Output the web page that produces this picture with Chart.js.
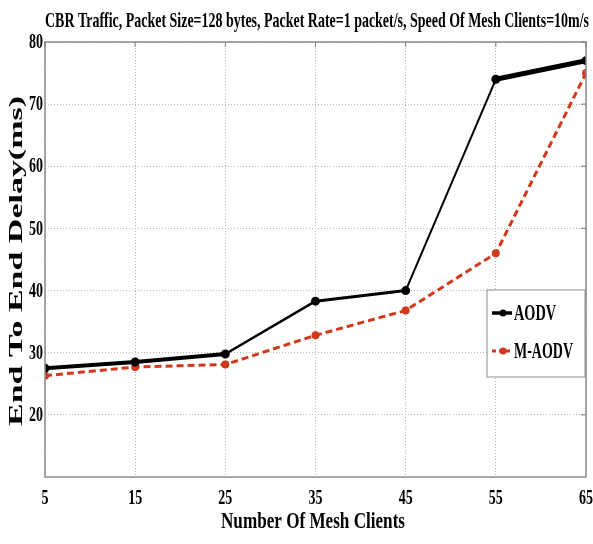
<!DOCTYPE html>
<html><head><meta charset="utf-8">
<script src="https://cdn.jsdelivr.net/npm/chart.js@4.4.0/dist/chart.umd.min.js"></script>
<style>html,body{margin:0;padding:0;background:#fff}#wrap{width:593px;height:544px;position:relative}canvas{display:block}</style>
</head><body><div id="wrap"><canvas id="c" width="593" height="544"></canvas></div>
<script>
// Delay measurements per number of mesh clients
const clients = [5, 15, 25, 35, 45, 55, 65];
const aodvDelay = [27.5, 28.5, 29.8, 38.3, 40.0, 74.0, 77.0];
const maodvDelay = [26.3, 27.7, 28.1, 32.8, 36.8, 46.0, 75.0];
const xTicks = [5, 15, 25, 35, 45, 55, 65];
const yTicks = [20, 30, 40, 50, 60, 70, 80];
const seriesNames = ['AODV', 'M-AODV'];
const chartTitle = 'CBR Traffic, Packet Size=128 bytes, Packet Rate=1 packet/s, Speed Of Mesh Clients=10m/s';
const xTitle = 'Number Of Mesh Clients';
const yTitle = 'End To End Delay(ms)';

const SERIF = "'Liberation Serif', 'DejaVu Serif', serif";
const TICK_FONT = 'bold 20px ' + SERIF;
const TICK_SQUEEZE = 0.7;

// Draws text squeezed or stretched along its baseline to a given length
function drawFitted(ctx, text, cx, cy, length, font, angle) {
  ctx.save();
  ctx.font = font;
  ctx.fillStyle = '#000';
  ctx.textAlign = 'center';
  ctx.textBaseline = 'middle';
  const w = ctx.measureText(text).width;
  ctx.translate(cx, cy);
  ctx.rotate(angle || 0);
  ctx.scale(length / w, 1);
  ctx.fillText(text, 0, 0);
  ctx.restore();
}

// Narrow tick label at an anchor point
function drawTickText(ctx, text, x, y, align) {
  ctx.save();
  ctx.font = TICK_FONT;
  ctx.fillStyle = '#000';
  ctx.textAlign = align;
  ctx.textBaseline = 'middle';
  ctx.translate(x, y);
  ctx.scale(TICK_SQUEEZE, 1);
  ctx.fillText(text, 0, 0);
  ctx.restore();
}

const decorations = {
  id: 'decorations',
  afterDatasetsDraw(chart) {
    const ctx = chart.ctx;
    const a = chart.chartArea;
    const xs = chart.scales.x, ys = chart.scales.y;
    ctx.save();
    // plot frame
    ctx.strokeStyle = '#8c8c8c';
    ctx.lineWidth = 1.5;
    ctx.strokeRect(a.left, a.top, a.right - a.left, a.bottom - a.top);
    // inward ticks on the top and right edges
    ctx.lineWidth = 1;
    ctx.strokeStyle = '#777';
    xs.ticks.forEach(t => {
      const px = xs.getPixelForValue(t.value);
      ctx.beginPath(); ctx.moveTo(px, a.top); ctx.lineTo(px, a.top + 5); ctx.stroke();
    });
    ys.ticks.forEach(t => {
      const py = ys.getPixelForValue(t.value);
      ctx.beginPath(); ctx.moveTo(a.right, py); ctx.lineTo(a.right - 5, py); ctx.stroke();
    });
    ctx.restore();

    // tick labels, placed by the axes
    xs.ticks.forEach(t => {
      drawTickText(ctx, String(t.label ?? t.value), xs.getPixelForValue(t.value), a.bottom + 22, 'center');
    });
    ys.ticks.forEach(t => {
      drawTickText(ctx, String(t.label ?? t.value), a.left - 2, ys.getPixelForValue(t.value) + 1, 'right');
    });

    // legend box
    ctx.save();
    const lx = 487, ly = 290, lw = 98, lh = 87;
    ctx.fillStyle = '#fff';
    ctx.fillRect(lx, ly, lw, lh);
    ctx.strokeStyle = '#8c8c8c';
    ctx.lineWidth = 1;
    ctx.strokeRect(lx, ly, lw, lh);
    const widths = [42, 59];
    chart.data.datasets.forEach((ds, i) => {
      const yy = ly + 23 + i * 38;
      ctx.save();
      ctx.strokeStyle = ds.borderColor;
      ctx.lineWidth = i === 0 ? 3.5 : 3;
      ctx.setLineDash(i === 0 ? [] : [4, 3]);
      ctx.beginPath(); ctx.moveTo(lx + 5, yy); ctx.lineTo(lx + 25, yy); ctx.stroke();
      ctx.setLineDash([]);
      ctx.fillStyle = ds.pointBackgroundColor;
      ctx.beginPath(); ctx.arc(lx + 16, yy, 3.5, 0, Math.PI * 2); ctx.fill();
      ctx.restore();
      const label = ds.label;
      ctx.save();
      ctx.font = 'bold 23px ' + SERIF;
      const tw = ctx.measureText(label).width;
      ctx.translate(lx + 27, yy + 1);
      ctx.scale(widths[i] / tw, 1);
      ctx.fillStyle = '#000';
      ctx.textBaseline = 'middle';
      ctx.fillText(label, 0, 0);
      ctx.restore();
    });
    ctx.restore();

    // titles
    drawFitted(ctx, chartTitle, 317, 21, 544, 'bold 22px ' + SERIF, 0);
    drawFitted(ctx, xTitle, 313, 522, 184, 'bold 24px ' + SERIF, 0);
    drawFitted(ctx, yTitle, 17.5, 261, 330, 'bold 19px ' + SERIF, -Math.PI / 2);
  }
};

new Chart(document.getElementById('c'), {
  type: 'line',
  data: {
    datasets: [
      {
        label: seriesNames[0],
        data: clients.map((c, i) => ({ x: c, y: aodvDelay[i] })),
        borderColor: '#000',
        backgroundColor: '#000',
        pointBackgroundColor: '#000',
        pointBorderColor: '#000',
        borderWidth: 3,
        pointRadius: 3,
        pointStyle: 'circle',
        tension: 0,
        segment: {
          borderWidth: c => [4, 4, 2.5, 3, 2, 5][c.p0DataIndex]
        }
      },
      {
        label: seriesNames[1],
        data: clients.map((c, i) => ({ x: c, y: maodvDelay[i] })),
        borderColor: '#d0391b',
        backgroundColor: '#d0391b',
        pointBackgroundColor: '#d0391b',
        pointBorderColor: '#d0391b',
        borderWidth: 3,
        borderDash: [7, 4],
        pointRadius: 2.5,
        tension: 0
      }
    ]
  },
  options: {
    responsive: false,
    animation: false,
    devicePixelRatio: 1,
    layout: { padding: { top: 42, right: 7, left: 0, bottom: 0 } },
    plugins: { legend: { display: false }, title: { display: false }, tooltip: { enabled: false } },
    scales: {
      x: {
        type: 'linear',
        min: 5, max: 65,
        afterBuildTicks: s => { s.ticks = xTicks.map(v => ({ value: v })); },
        afterFit: s => { s.height = 67; s.paddingLeft = 0; s.paddingRight = 0; },
        grid: { color: '#b5b5b5', lineWidth: 1, drawTicks: false },
        border: { display: false, dash: [1, 2] },
        ticks: { display: false }
      },
      y: {
        type: 'linear',
        min: 10, max: 80,
        afterBuildTicks: s => { s.ticks = yTicks.map(v => ({ value: v })); },
        afterFit: s => { s.width = 45; s.paddingTop = 0; s.paddingBottom = 0; },
        grid: { color: '#b5b5b5', lineWidth: 1, drawTicks: false },
        border: { display: false, dash: [1, 2] },
        ticks: { display: false }
      }
    }
  },
  plugins: [decorations]
});
</script>
</body></html>
